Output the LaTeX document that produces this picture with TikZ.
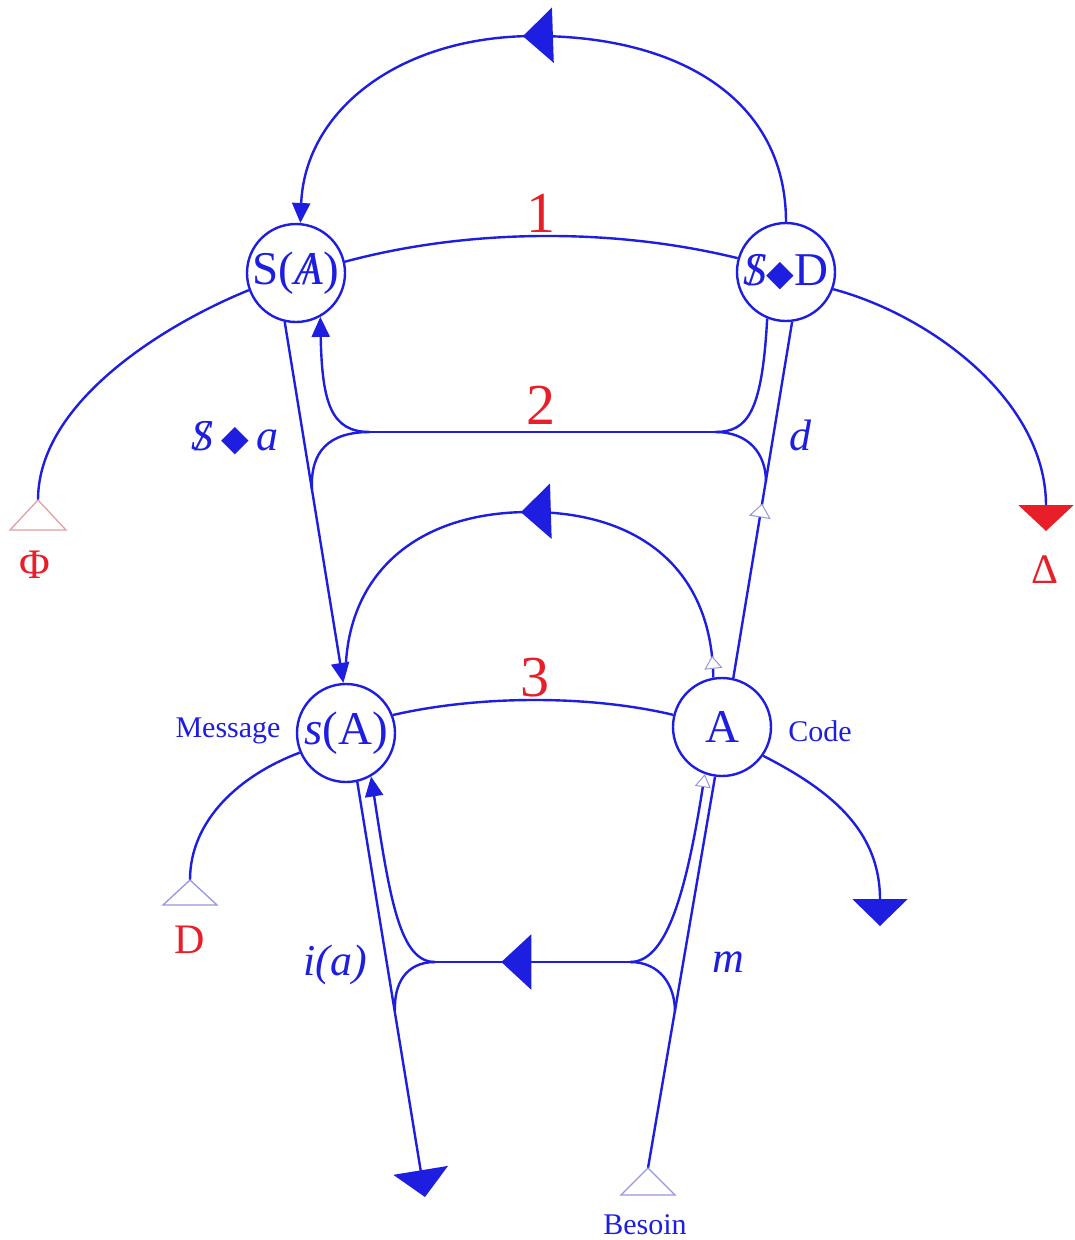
\documentclass[tikz,border=0pt]{standalone}
\usepackage{fontspec}
\setmainfont{Liberation Serif}
\newfontfamily\djv{DejaVu Sans}
\usetikzlibrary{arrows.meta,decorations.markings}
\definecolor{gblue}{RGB}{30,30,225}
\definecolor{gred}{RGB}{232,30,40}
\definecolor{pblue}{RGB}{150,150,225}
\definecolor{pred}{RGB}{225,160,160}
\newcommand\barS{\ooalign{\textit{S}\cr\hidewidth/\hidewidth}}
\newcommand\barA{\ooalign{\textit{A}\cr\hidewidth/\hidewidth}}
\newcommand\dmd{{\djv\fontsize{36}{36}\selectfont ◆}}
\begin{document}
\begin{tikzpicture}[x=1pt,y=-1pt,
  every node/.style={text=gblue},
  ln/.style={color=gblue,line width=2.4pt},
  circ/.style={circle,draw=gblue,fill=white,line width=2.4pt,minimum size=98pt,inner sep=0pt,font=\fontsize{47}{47}\selectfont},
  num/.style={text=gred,font=\fontsize{58}{58}\selectfont},
  lab/.style={font=\fontsize{44}{44}\selectfont\itshape},
  redlab/.style={text=gred,font=\fontsize{42}{42}\selectfont},
  small/.style={font=\fontsize{30}{30}\selectfont},
  bigtip/.style={-{Triangle[width=55pt,length=27pt]}},
  smalltip/.style={-{Triangle[width=18pt,length=20pt]}},
  bigmid/.style={postaction={decorate},decoration={markings,mark=at position #1 with {\arrow{Triangle[width=55pt,length=30pt]}}}},
  openmid/.style={postaction={decorate},decoration={markings,mark=at position #1 with {\arrow{Triangle[open,fill=white,color=pblue,line width=1pt,width=22pt,length=14pt]}}}},
  arcmarks/.style={postaction={decorate},decoration={markings,
     mark=at position 0.04 with {\arrow{Triangle[open,fill=white,color=pblue,line width=1pt,width=18pt,length=13pt]}},
     mark=at position 0.53 with {\arrow{Triangle[width=55pt,length=30pt]}}}},
  opentri/.style={draw=pblue,line width=1.3pt},
]
\useasboundingbox (0,0) rectangle (1074,1240);
\fill[white] (0,0) rectangle (1074,1240);

% coordinates
\coordinate (L2a) at (370,432);
\coordinate (L2b) at (715,432);
\coordinate (L4a) at (435,962);
\coordinate (L4b) at (630,962);
\coordinate (phi) at (38,500);
\coordinate (delta) at (1046,531);
\coordinate (dtri) at (190,880);
\coordinate (codetip) at (880,926);
\coordinate (iatip) at (425,1197);
\coordinate (bes) at (648,1168);

% circles
\node[circ] (SA) at (296,273) {S(\barA)};
\node[circ] (SD) at (786,272) {\barS\dmd D};
\node[circ] (sA) at (346,733) {\textit{s}(A)};
\node[circ] (A) at (722,727) {A};

% top arc
\draw[ln,bigmid=0.53,smalltip] (SD.90) .. controls (786,100) and (680,36) .. (535,36) .. controls (400,36) and (305,110) .. (SA.85);
% line 1
\draw[ln] (SA.13) .. controls (470,228) and (615,228) .. (SD.164);
% line 2
\draw[ln] (L2a) -- (L2b);
\draw[ln,smalltip] (L2a) .. controls (332,432) and (322,405) .. (SA.299);
\draw[ln] (L2a) .. controls (328,432) and (310,452) .. (312,490);
\draw[ln] (L2b) .. controls (748,432) and (762,412) .. (SD.248);
\draw[ln] (L2b) .. controls (750,432) and (766,455) .. (766,482);
% verticals upper
\draw[ln,smalltip] (SA.257) -- (sA.93);
\draw[ln,openmid=0.49] (A.77) -- (SD.277);
% line 3
\draw[ln] (sA.21) .. controls (480,695) and (590,695) .. (A.166);
% middle arc
\draw[ln,arcmarks] (A.100) .. controls (712,570) and (640,512) .. (530,512) .. controls (420,512) and (352,570) .. (346,662);
% lower
\draw[ln,bigtip] (sA.283) -- (iatip);
\draw[ln,smalltip] (L4a) .. controls (400,962) and (390,900) .. (sA.300);
\draw[ln] (L4a) .. controls (405,962) and (394,985) .. (395,1010);
\draw[ln,bigmid=0.66] (L4b) -- (L4a);
\draw[ln,-{Triangle[open,fill=white,color=pblue,line width=1pt,width=16pt,length=13pt]}] (L4b) .. controls (665,962) and (685,900) .. (A.250);
\draw[ln] (L4b) .. controls (660,962) and (675,985) .. (675,1012);
\draw[ln] (A.262) -- (bes);
\draw[opentri] (bes) -- ++(-27,27) -- ++(54,0) -- cycle;
% side branches
\draw[ln] (SA.200) .. controls (170,322) and (38,400) .. (phi);
\draw[draw=pred,line width=1.3pt] (phi) -- ++(-28,30) -- ++(56,0) -- cycle;
\draw[ln,-{Triangle[width=55pt,length=26pt,color=gred]}] (SD.-20) .. controls (930,315) and (1046,400) .. (delta);
\draw[ln] (sA.203) .. controls (240,775) and (190,820) .. (dtri);
\draw[opentri] (dtri) -- ++(-27,25) -- ++(54,0) -- cycle;
\draw[ln,bigtip] (A.-35) .. controls (830,790) and (880,830) .. (codetip);

% labels
\node[num] (n1) at (541,213) {1};
\node[num] (n2) at (541,405) {2};
\node[num] (n3) at (535,678) {3};
\node[lab] (sa) at (235,438) {\barS\,{\djv\fontsize{36}{36}\selectfont ◆}\,a};
\node[lab] (dl) at (800,435) {d};
\node[lab] (ml) at (728,962) {m};
\node[lab] (ial) at (335,965) {i(a)};
\node[redlab] (phil) at (35,565) {Φ};
\node[redlab] (dell) at (1045,570) {Δ};
\node[redlab] (dlab) at (190,940) {D};
\node[small] (msg) at (228,731) {Message};
\node[small] (code) at (820,731) {Code};
\node[small] (besl) at (645,1225) {Besoin};
\end{tikzpicture}
\end{document}
